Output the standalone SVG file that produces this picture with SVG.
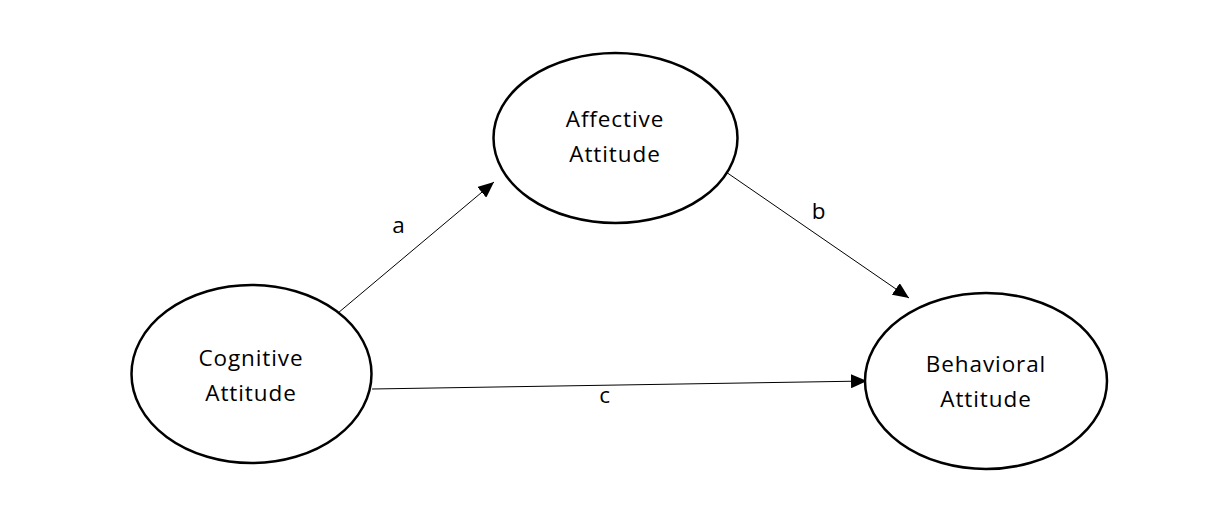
<svg xmlns="http://www.w3.org/2000/svg" width="1225" height="510" viewBox="0 0 1225 510">
<style>
.node ellipse{fill:#fff;stroke:#000;stroke-width:2.5}
text{font-family:"Open Sans","Liberation Sans",sans-serif;font-size:22.5px;letter-spacing:0.9px;fill:#000;text-anchor:middle}
.conn line{stroke:#000;stroke-width:1}
</style>
<defs>
<marker id="arr" viewBox="0 0 16 14" refX="16" refY="7" markerWidth="16" markerHeight="14" markerUnits="userSpaceOnUse" orient="auto">
<path d="M0,0 L16,7 L0,14 Z" fill="#000"/>
</marker>
</defs>
<rect width="1225" height="510" fill="#fff"/>
<g id="connectors" class="conn">
<line x1="338" y1="313" x2="494" y2="182" marker-end="url(#arr)"/>
<line x1="726" y1="172" x2="909" y2="298" marker-end="url(#arr)"/>
<line x1="372" y1="389" x2="867" y2="381" marker-end="url(#arr)"/>
<text x="399" y="233">a</text>
<text x="819" y="219">b</text>
<text x="605" y="403">c</text>
</g>
<g id="affective" class="node">
<ellipse cx="615.5" cy="138" rx="122" ry="85"/>
<text x="615" y="127">Affective</text>
<text x="615" y="162">Attitude</text>
</g>
<g id="cognitive" class="node">
<ellipse cx="251.5" cy="374" rx="120" ry="89"/>
<text x="251" y="366">Cognitive</text>
<text x="251" y="401">Attitude</text>
</g>
<g id="behavioral" class="node">
<ellipse cx="986" cy="381" rx="121" ry="88"/>
<text x="986" y="372">Behavioral</text>
<text x="986" y="407">Attitude</text>
</g>
</svg>
